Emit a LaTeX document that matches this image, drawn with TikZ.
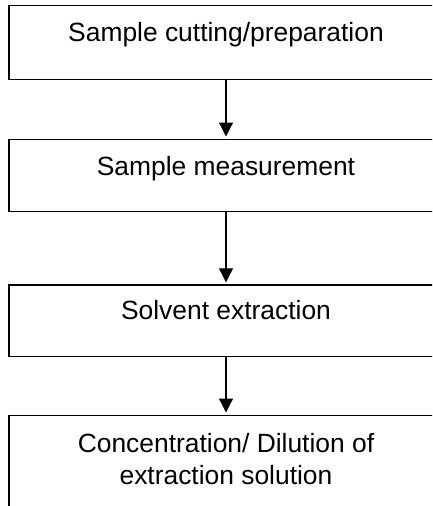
\documentclass[tikz,border=0pt]{standalone}
\usepackage{fontspec}
\setmainfont{Liberation Sans}
\usetikzlibrary{arrows.meta}
\tikzset{
  box/.style={draw=black, line width=1.2pt, inner sep=0pt, anchor=north, rectangle},
  flow/.style={line width=1.2pt, -{Triangle[width=14pt,length=14pt]}, shorten >=2pt}
}
\newcommand{\boxtext}[3]{\parbox[c][#1][t]{434pt}{\fontsize{26.4pt}{32pt}\selectfont\centering\rule{0pt}{#2}#3\par}}
\begin{document}
\begin{tikzpicture}
\clip (0,-506pt) rectangle (432pt,0pt);
\useasboundingbox (0,-506pt) rectangle (432pt,0pt);
\node[box] (b1) at (226pt,-5pt) {\boxtext{73.5pt}{36pt}{Sample cutting/preparation}};
\node[box] (b2) at (226pt,-138.5pt) {\boxtext{72.5pt}{36pt}{Sample measurement}};
\node[box] (b3) at (226pt,-284.3pt) {\boxtext{71.7pt}{35pt}{Solvent extraction}};
\node[box] (b4) at (226pt,-414.5pt) {\boxtext{120pt}{37pt}{Concentration/ Dilution of\\extraction solution}};
\draw[flow] (b1.south) -- (b2.north);
\draw[flow] (b2.south) -- (b3.north);
\draw[flow] (b3.south) -- (b4.north);
\end{tikzpicture}
\end{document}
